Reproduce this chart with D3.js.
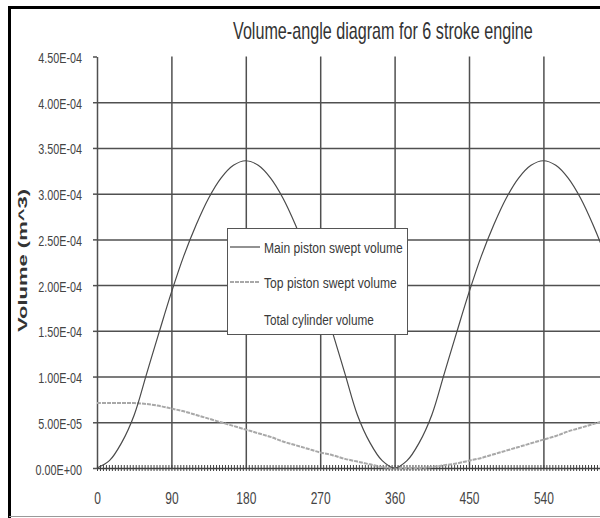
<!DOCTYPE html>
<meta charset="utf-8">
<script src="https://d3js.org/d3.v7.min.js"></script>
<style>
body { margin: 0; background: #fff; }
text { font-family: "Liberation Sans", Arial, sans-serif; }
</style>
<div id="chart"></div>
<script>
// crank angle (deg) and volumes, in units of 1e-4 m^3
var angles = [0, 15, 30, 45, 60, 75, 90, 105, 120, 135, 150, 165, 180,
              195, 210, 225, 240, 255, 270, 285, 300, 315, 330, 345, 360,
              375, 390, 405, 420, 435, 450, 465, 480, 495, 510, 525, 540,
              555, 570, 585, 600, 615, 630];
var mainPiston = [0, 0.08, 0.28, 0.58, 1.03, 1.48, 1.92, 2.32, 2.66, 2.95, 3.17, 3.31, 3.36,
                  3.31, 3.17, 2.95, 2.66, 2.32, 1.92, 1.48, 1.03, 0.58, 0.28, 0.08, 0,
                  0.08, 0.28, 0.58, 1.03, 1.48, 1.92, 2.32, 2.66, 2.95, 3.17, 3.31, 3.36,
                  3.31, 3.17, 2.95, 2.66, 2.32, 1.92];
var topPiston = [0.71, 0.71, 0.71, 0.71, 0.70, 0.68, 0.65, 0.62, 0.58, 0.54, 0.50, 0.46, 0.42,
                 0.38, 0.34, 0.29, 0.25, 0.21, 0.17, 0.14, 0.10, 0.07, 0.04, 0.01, 0,
                 0, 0, 0.01, 0.03, 0.05, 0.08, 0.11, 0.15, 0.19, 0.23, 0.27, 0.31,
                 0.35, 0.40, 0.44, 0.48, 0.52, 0.56];
var xLabels = [0, 90, 180, 270, 360, 450, 540];
var yTicks = [0, 0.5e-4, 1.0e-4, 1.5e-4, 2.0e-4, 2.5e-4, 3.0e-4, 3.5e-4, 4.0e-4, 4.5e-4];
var legendNames = ["Main piston swept volume", "Top piston swept volume", "Total cylinder volume"];

var W = 600, H = 518;
var svg = d3.select("#chart").append("svg")
  .attr("width", W).attr("height", H);

svg.append("rect").attr("width", W).attr("height", H).attr("fill", "#fff");

var x = d3.scaleLinear().domain([0, 720]).range([97, 97 + 8 * 74.4]);
var y = d3.scaleLinear().domain([0, 4.5e-4]).range([468, 56.5]);

function sci(v) {
  if (v === 0) return "0.00E+00";
  var e = Math.floor(Math.log10(v) + 1e-9);
  var m = v / Math.pow(10, e);
  var s = e < 0 ? "-" : "+";
  return m.toFixed(2) + "E" + s + String(Math.abs(e)).padStart(2, "0");
}

// squeeze a text horizontally to a given width (the scan is narrow)
function fitText(sel, px, py, width) {
  var w = sel.node().getComputedTextLength();
  sel.attr("transform", "translate(" + px + "," + py + ") scale(" + (width / w) + ",1)");
}

// frame
svg.append("path").attr("d", "M9.5,518V7.5H600")
  .attr("fill", "none").attr("stroke", "#000").attr("stroke-width", 3);
svg.append("line").attr("x1", 9).attr("x2", 600).attr("y1", 516.5).attr("y2", 516.5)
  .attr("stroke", "#999").attr("stroke-width", 1);

// horizontal gridlines
svg.append("g")
  .attr("transform", "translate(" + x(0) + ",0)")
  .call(d3.axisLeft(y).tickValues(yTicks.slice(1, 9)).tickSize(-(W - x(0))).tickFormat(""))
  .call(function(g) {
    g.select(".domain").remove();
    g.selectAll("line").attr("stroke", "#505050").attr("stroke-width", 1.5);
  });

// vertical gridlines
svg.append("g")
  .attr("transform", "translate(0," + y(0) + ")")
  .call(d3.axisBottom(x).tickValues(xLabels.slice(1)).tickSize(-(y(0) - y(4.5e-4))).tickFormat(""))
  .call(function(g) {
    g.select(".domain").remove();
    g.selectAll("line").attr("stroke", "#505050").attr("stroke-width", 1.5);
  });

// y axis
svg.append("g")
  .attr("transform", "translate(" + x(0) + ",0)")
  .call(d3.axisLeft(y).tickValues(yTicks).tickSize(4).tickSizeOuter(0).tickFormat(sci))
  .call(function(g) {
    g.select(".domain").attr("stroke", "#505050").attr("stroke-width", 1.5);
    g.selectAll("line").attr("stroke", "#505050").attr("stroke-width", 1.5);
    g.selectAll("text")
      .attr("x", 0).attr("dy", null).attr("y", 6)
      .attr("transform", "translate(-15,0) scale(0.72,1)")
      .attr("font-size", 15).attr("font-family", null)
      .attr("fill", "#444");
  });

// x axis with dense cross ticks
svg.append("g")
  .attr("transform", "translate(0," + y(0) + ")")
  .call(d3.axisBottom(x).tickValues(d3.range(0, 720, 3.6)).tickSizeOuter(0).tickFormat(""))
  .call(function(g) {
    g.select(".domain").attr("stroke", "#404040").attr("stroke-width", 1.5);
    g.selectAll(".tick line").attr("y1", -3).attr("y2", 3)
      .attr("stroke", "#404040").attr("stroke-width", 1);
  });

svg.append("g")
  .attr("transform", "translate(0," + y(0) + ")")
  .call(d3.axisBottom(x).tickValues(xLabels).tickSize(0))
  .call(function(g) {
    g.select(".domain").remove();
    g.selectAll("text")
      .attr("y", 36).attr("dy", null)
      .attr("transform", "scale(0.75,1)")
      .attr("font-size", 16).attr("font-family", null)
      .attr("fill", "#444");
  });

// series
var line = d3.line()
  .x(function(d, i) { return x(angles[i]); })
  .y(function(d) { return y(d * 1e-4); })
  .curve(d3.curveCatmullRom);

svg.append("path").datum(topPiston)
  .attr("d", line)
  .attr("fill", "none").attr("stroke", "#a8a8a8")
  .attr("stroke-width", 2).attr("stroke-dasharray", "4,1");

svg.append("path").datum(mainPiston)
  .attr("d", line)
  .attr("fill", "none").attr("stroke", "#4a4a4a").attr("stroke-width", 1.2);

// title
var title = svg.append("text")
  .attr("font-size", 23)
  .attr("fill", "#333")
  .text("Volume-angle diagram for 6 stroke engine");
fitText(title, 233, 39, 300);

// y label
svg.append("text")
  .attr("transform", "translate(27,260.5) rotate(-90) scale(1,0.62)")
  .attr("text-anchor", "middle")
  .attr("font-size", 22).attr("font-weight", "bold")
  .attr("fill", "#333")
  .text("Volume (m^3)");

// legend
var legend = svg.append("g");
legend.append("rect")
  .attr("x", 227.5).attr("y", 228.5).attr("width", 180).attr("height", 106)
  .attr("fill", "#fff").attr("stroke", "#555").attr("stroke-width", 1);

var rowY = [247, 282, 319];
var rowLen = [139, 133, 110];
var rowStroke = ["#4a4a4a", "#a8a8a8", "none"];
legendNames.forEach(function(name, i) {
  if (rowStroke[i] !== "none") {
    legend.append("line")
      .attr("x1", 230).attr("x2", 260).attr("y1", rowY[i]).attr("y2", rowY[i])
      .attr("stroke", rowStroke[i]).attr("stroke-width", i === 1 ? 2 : 1.2)
      .attr("stroke-dasharray", i === 1 ? "4,1" : null);
  }
  var t = legend.append("text")
    .attr("font-size", 15.5)
    .attr("fill", "#3a3a3a")
    .text(name);
  fitText(t, 264, rowY[i] + 5.5, rowLen[i]);
});
</script>
